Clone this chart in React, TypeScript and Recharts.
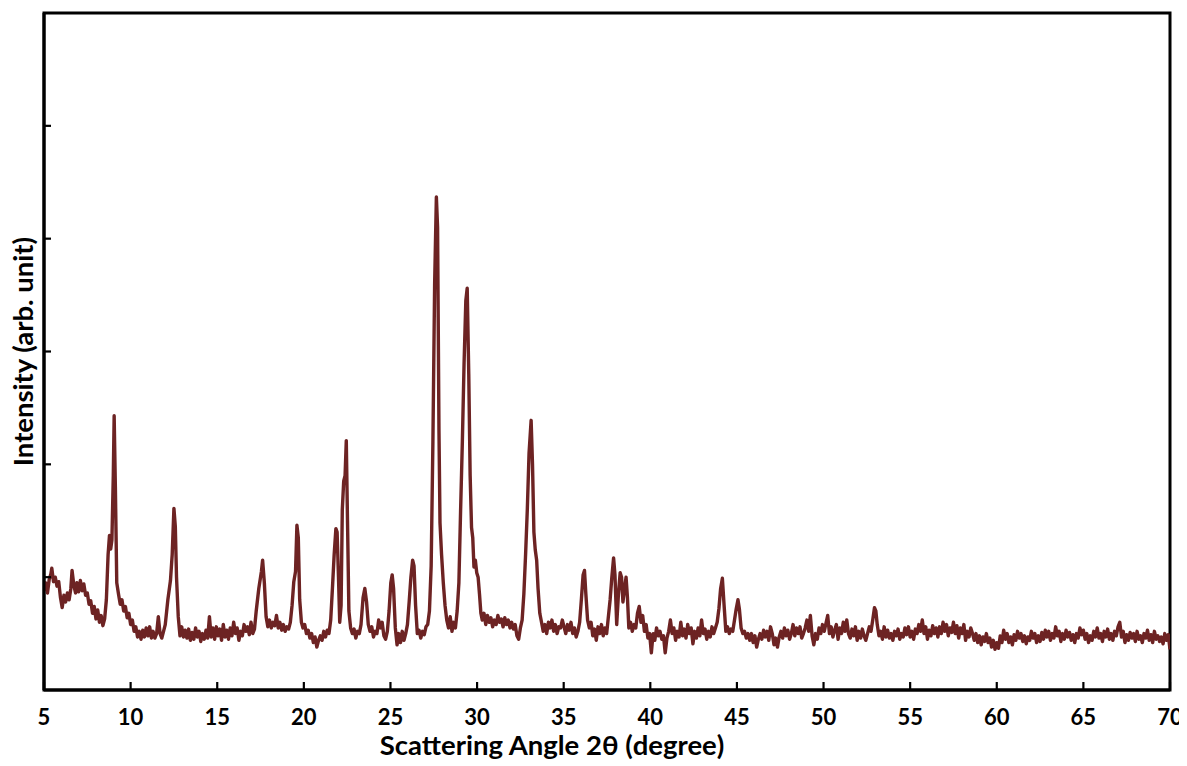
import React from 'react';
import { LineChart, Line, XAxis, YAxis, Label, ReferenceArea } from 'recharts';

// 2θ (degree), intensity (arb. unit)
const seg1: [number, number][] = [
  [5.0, 0.88], [5.1, 0.95], [5.2, 0.86], [5.3, 0.98], [5.4, 1.03], [5.45, 1.08], [5.55, 0.96], [5.65, 1.0],
  [5.75, 0.92], [5.85, 0.96], [5.95, 0.82], [6.05, 0.73], [6.15, 0.84], [6.25, 0.78], [6.35, 0.86], [6.45, 0.8],
  [6.55, 0.9], [6.62, 1.06], [6.72, 0.93], [6.82, 0.86], [6.9, 0.95], [7.0, 0.87], [7.1, 0.97], [7.2, 0.88],
  [7.3, 0.94], [7.4, 0.84], [7.5, 0.86], [7.6, 0.76], [7.7, 0.79], [7.8, 0.68], [7.9, 0.74], [8.0, 0.63],
  [8.1, 0.71], [8.2, 0.6], [8.3, 0.66], [8.4, 0.57], [8.5, 0.63], [8.6, 0.8], [8.7, 1.2], [8.78, 1.37],
  [8.85, 1.25], [8.92, 1.33], [9.0, 1.9], [9.05, 2.43], [9.12, 1.8], [9.2, 0.95], [9.3, 0.85], [9.4, 0.76],
  [9.5, 0.8], [9.6, 0.7], [9.7, 0.74], [9.8, 0.64], [9.9, 0.68], [10.0, 0.58], [10.1, 0.62], [10.2, 0.52],
  [10.3, 0.56], [10.4, 0.47], [10.5, 0.52], [10.6, 0.45], [10.7, 0.53], [10.8, 0.47], [10.9, 0.55], [11.0, 0.48],
  [11.1, 0.56], [11.2, 0.46], [11.3, 0.52], [11.4, 0.46], [11.5, 0.5], [11.6, 0.65], [11.7, 0.5], [11.8, 0.46],
  [11.9, 0.52], [12.0, 0.58], [12.15, 0.8], [12.3, 0.97], [12.4, 1.2], [12.5, 1.61], [12.58, 1.45], [12.65, 1.0],
  [12.75, 0.65], [12.85, 0.48], [12.95, 0.56], [13.05, 0.47], [13.15, 0.53], [13.25, 0.46], [13.35, 0.54], [13.45, 0.44],
  [13.55, 0.51], [13.65, 0.45], [13.75, 0.55], [13.85, 0.47], [13.95, 0.52], [14.05, 0.43], [14.15, 0.5], [14.25, 0.45],
  [14.35, 0.53], [14.45, 0.46], [14.55, 0.65], [14.65, 0.47], [14.75, 0.55], [14.85, 0.45], [14.95, 0.56], [15.05, 0.48],
  [15.15, 0.54], [15.25, 0.44], [15.35, 0.58], [15.45, 0.47], [15.55, 0.53], [15.65, 0.45], [15.75, 0.55], [15.85, 0.48],
  [15.95, 0.6], [16.05, 0.5], [16.15, 0.55], [16.25, 0.44], [16.35, 0.52], [16.45, 0.48], [16.55, 0.58], [16.65, 0.52],
  [16.75, 0.56], [16.85, 0.49], [16.95, 0.6], [17.05, 0.5], [17.15, 0.54], [17.25, 0.7], [17.4, 0.9], [17.55, 1.05],
  [17.62, 1.15], [17.72, 0.95], [17.82, 0.65], [17.92, 0.56], [18.02, 0.62], [18.12, 0.55], [18.22, 0.6], [18.32, 0.57],
  [18.42, 0.66], [18.52, 0.55], [18.62, 0.6], [18.72, 0.53], [18.82, 0.58], [18.92, 0.52], [19.02, 0.56], [19.12, 0.54],
  [19.22, 0.6], [19.32, 0.75], [19.42, 0.96], [19.52, 1.05], [19.6, 1.46], [19.68, 1.35], [19.76, 0.8], [19.86, 0.6],
];

const seg2: [number, number][] = [
  [19.95, 0.55], [20.05, 0.58], [20.15, 0.5], [20.25, 0.53], [20.35, 0.46], [20.45, 0.5], [20.55, 0.42], [20.65, 0.47],
  [20.75, 0.38], [20.85, 0.44], [20.95, 0.48], [21.05, 0.44], [21.15, 0.52], [21.25, 0.47], [21.35, 0.53], [21.45, 0.5],
  [21.55, 0.62], [21.65, 0.9], [21.75, 1.2], [21.85, 1.43], [21.92, 1.4], [22.0, 1.0], [22.07, 0.6], [22.15, 0.75],
  [22.22, 1.6], [22.3, 1.85], [22.38, 1.9], [22.45, 2.21], [22.52, 1.5], [22.6, 0.7], [22.7, 0.55], [22.8, 0.5],
  [22.9, 0.54], [23.0, 0.46], [23.1, 0.52], [23.2, 0.5], [23.3, 0.58], [23.42, 0.82], [23.52, 0.9], [23.62, 0.78],
  [23.72, 0.58], [23.82, 0.52], [23.92, 0.56], [24.02, 0.47], [24.12, 0.52], [24.22, 0.5], [24.32, 0.62], [24.42, 0.55],
  [24.52, 0.6], [24.62, 0.48], [24.72, 0.45], [24.82, 0.52], [24.92, 0.7], [25.02, 0.95], [25.1, 1.02], [25.18, 0.9],
  [25.28, 0.55], [25.38, 0.4], [25.48, 0.5], [25.58, 0.42], [25.68, 0.52], [25.78, 0.44], [25.88, 0.5], [25.98, 0.58],
  [26.08, 0.78], [26.18, 1.0], [26.28, 1.15], [26.36, 1.1], [26.45, 0.75], [26.55, 0.5], [26.65, 0.53], [26.75, 0.46],
  [26.85, 0.52], [26.95, 0.49], [27.05, 0.56], [27.15, 0.58], [27.25, 0.7], [27.35, 1.1], [27.45, 2.2], [27.55, 3.6],
  [27.65, 4.37], [27.72, 4.1], [27.8, 2.3], [27.86, 1.48], [27.95, 1.2], [28.05, 0.95], [28.15, 0.75], [28.25, 0.62],
  [28.35, 0.55], [28.45, 0.65], [28.55, 0.52], [28.65, 0.6], [28.75, 0.55], [28.85, 0.7], [28.95, 0.95], [29.05, 1.6],
  [29.15, 2.2], [29.25, 2.9], [29.35, 3.45], [29.43, 3.56], [29.52, 2.8], [29.6, 1.9], [29.68, 1.44], [29.75, 1.35],
  [29.82, 1.09], [29.9, 1.15], [29.98, 1.04], [30.06, 1.0], [30.14, 0.85], [30.22, 0.68], [30.3, 0.62], [30.4, 0.68],
  [30.5, 0.58], [30.6, 0.66], [30.7, 0.6], [30.8, 0.64], [30.9, 0.56], [31.0, 0.62], [31.1, 0.58], [31.2, 0.66],
  [31.3, 0.6], [31.4, 0.63], [31.5, 0.56], [31.6, 0.64], [31.7, 0.58], [31.8, 0.62], [31.9, 0.55], [32.0, 0.6],
  [32.1, 0.54], [32.2, 0.58], [32.3, 0.48], [32.4, 0.45], [32.5, 0.55], [32.6, 0.62], [32.7, 0.85], [32.8, 1.2],
  [32.9, 1.6], [33.0, 2.1], [33.12, 2.39], [33.2, 2.0], [33.28, 1.4], [33.36, 1.24], [33.44, 1.15], [33.52, 0.9],
  [33.62, 0.68], [33.72, 0.6], [33.82, 0.52], [33.92, 0.58], [34.02, 0.5], [34.12, 0.6], [34.22, 0.55], [34.32, 0.62],
  [34.42, 0.52], [34.52, 0.58], [34.62, 0.5], [34.72, 0.56], [34.82, 0.55], [34.92, 0.62],
];

const seg3: [number, number][] = [
  [35.02, 0.56], [35.12, 0.5], [35.22, 0.58], [35.32, 0.53], [35.42, 0.6], [35.52, 0.5], [35.62, 0.55], [35.72, 0.47],
  [35.82, 0.52], [35.92, 0.6], [36.02, 0.8], [36.12, 1.02], [36.2, 1.06], [36.28, 0.85], [36.38, 0.62], [36.48, 0.55],
  [36.58, 0.6], [36.68, 0.48], [36.78, 0.54], [36.88, 0.44], [36.98, 0.56], [37.08, 0.5], [37.18, 0.58], [37.28, 0.48],
  [37.38, 0.55], [37.48, 0.5], [37.58, 0.65], [37.68, 0.8], [37.78, 1.0], [37.88, 1.17], [37.96, 1.02], [38.06, 0.58],
  [38.16, 0.85], [38.26, 1.04], [38.34, 1.0], [38.42, 0.78], [38.5, 0.88], [38.6, 1.0], [38.68, 0.82], [38.76, 0.55],
  [38.86, 0.6], [38.96, 0.52], [39.06, 0.58], [39.16, 0.55], [39.26, 0.68], [39.36, 0.74], [39.46, 0.6], [39.56, 0.66],
  [39.66, 0.52], [39.76, 0.58], [39.86, 0.46], [39.96, 0.5], [40.06, 0.33], [40.16, 0.5], [40.26, 0.44], [40.36, 0.55],
  [40.46, 0.48], [40.56, 0.52], [40.66, 0.45], [40.76, 0.48], [40.86, 0.33], [40.96, 0.46], [41.06, 0.52], [41.16, 0.62],
  [41.26, 0.5], [41.36, 0.55], [41.46, 0.44], [41.56, 0.52], [41.66, 0.47], [41.76, 0.6], [41.86, 0.48], [41.96, 0.54],
  [42.06, 0.46], [42.16, 0.58], [42.26, 0.5], [42.36, 0.55], [42.46, 0.41], [42.56, 0.52], [42.66, 0.46], [42.76, 0.55],
  [42.86, 0.48], [42.96, 0.62], [43.06, 0.5], [43.16, 0.54], [43.26, 0.45], [43.36, 0.52], [43.46, 0.47], [43.56, 0.56],
  [43.66, 0.5], [43.76, 0.55], [43.86, 0.6], [43.96, 0.72], [44.06, 0.9], [44.16, 0.99], [44.26, 0.75], [44.36, 0.52],
  [44.46, 0.56], [44.56, 0.5], [44.66, 0.54], [44.76, 0.52], [44.86, 0.62], [44.96, 0.72], [45.06, 0.8], [45.14, 0.72],
  [45.24, 0.55], [45.34, 0.5], [45.44, 0.52], [45.54, 0.46], [45.64, 0.5], [45.74, 0.44], [45.84, 0.5], [45.94, 0.42],
  [46.04, 0.48], [46.14, 0.38], [46.24, 0.45], [46.34, 0.5], [46.44, 0.45], [46.54, 0.53], [46.64, 0.47], [46.74, 0.52],
  [46.84, 0.44], [46.94, 0.56], [47.04, 0.5], [47.14, 0.4], [47.24, 0.46], [47.34, 0.38], [47.44, 0.47], [47.54, 0.52],
  [47.64, 0.46], [47.74, 0.55], [47.84, 0.48], [47.94, 0.53], [48.04, 0.45], [48.14, 0.5], [48.24, 0.58], [48.34, 0.48],
  [48.44, 0.55], [48.54, 0.5], [48.64, 0.56], [48.74, 0.46], [48.84, 0.5], [48.94, 0.55], [49.04, 0.62], [49.14, 0.52],
  [49.24, 0.66], [49.34, 0.48], [49.44, 0.4], [49.54, 0.5], [49.64, 0.45], [49.74, 0.55], [49.84, 0.5], [49.94, 0.58],
];

const seg4: [number, number][] = [
  [50.04, 0.52], [50.14, 0.59], [50.24, 0.66], [50.34, 0.5], [50.44, 0.56], [50.54, 0.47], [50.64, 0.53], [50.74, 0.58],
  [50.84, 0.45], [50.94, 0.55], [51.04, 0.5], [51.14, 0.6], [51.24, 0.52], [51.34, 0.62], [51.44, 0.5], [51.54, 0.46],
  [51.64, 0.54], [51.74, 0.48], [51.84, 0.56], [51.94, 0.44], [52.04, 0.52], [52.14, 0.46], [52.24, 0.54], [52.34, 0.48],
  [52.44, 0.44], [52.54, 0.5], [52.64, 0.56], [52.74, 0.52], [52.84, 0.62], [52.94, 0.73], [53.02, 0.7], [53.1, 0.58],
  [53.2, 0.48], [53.3, 0.52], [53.4, 0.45], [53.5, 0.56], [53.6, 0.47], [53.7, 0.53], [53.8, 0.46], [53.9, 0.5],
  [54.0, 0.44], [54.1, 0.52], [54.2, 0.48], [54.3, 0.54], [54.4, 0.45], [54.5, 0.5], [54.6, 0.47], [54.7, 0.55],
  [54.8, 0.49], [54.9, 0.56], [55.0, 0.47], [55.1, 0.52], [55.2, 0.45], [55.3, 0.54], [55.4, 0.5], [55.5, 0.58],
  [55.6, 0.52], [55.7, 0.62], [55.8, 0.5], [55.9, 0.56], [56.0, 0.45], [56.1, 0.53], [56.2, 0.48], [56.3, 0.57],
  [56.4, 0.5], [56.5, 0.55], [56.6, 0.47], [56.7, 0.56], [56.8, 0.5], [56.9, 0.6], [57.0, 0.52], [57.1, 0.58],
  [57.2, 0.48], [57.3, 0.55], [57.4, 0.51], [57.5, 0.6], [57.6, 0.5], [57.7, 0.57], [57.8, 0.46], [57.9, 0.55],
  [58.0, 0.5], [58.1, 0.58], [58.2, 0.44], [58.3, 0.52], [58.4, 0.47], [58.5, 0.55], [58.6, 0.5], [58.7, 0.44],
  [58.8, 0.5], [58.9, 0.42], [59.0, 0.48], [59.1, 0.4], [59.2, 0.47], [59.3, 0.43], [59.4, 0.5], [59.5, 0.42],
  [59.6, 0.46], [59.7, 0.38], [59.8, 0.44], [59.9, 0.36], [60.0, 0.42], [60.1, 0.37], [60.2, 0.48], [60.3, 0.42],
  [60.4, 0.53], [60.5, 0.45], [60.6, 0.5], [60.7, 0.42], [60.8, 0.47], [60.9, 0.4], [61.0, 0.49], [61.1, 0.44],
  [61.2, 0.52], [61.3, 0.46], [61.4, 0.5], [61.5, 0.43], [61.6, 0.48], [61.7, 0.41], [61.8, 0.47], [61.9, 0.44],
  [62.0, 0.52], [62.1, 0.46], [62.2, 0.5], [62.3, 0.42], [62.4, 0.48], [62.5, 0.43], [62.6, 0.51], [62.7, 0.45],
  [62.8, 0.53], [62.9, 0.47], [63.0, 0.52], [63.1, 0.44], [63.2, 0.5], [63.3, 0.46], [63.4, 0.56], [63.5, 0.48],
  [63.6, 0.52], [63.7, 0.43], [63.8, 0.5], [63.9, 0.45], [64.0, 0.53], [64.1, 0.47], [64.2, 0.51], [64.3, 0.44],
  [64.4, 0.49], [64.5, 0.42], [64.6, 0.5], [64.7, 0.46], [64.8, 0.55], [64.9, 0.49], [65.0, 0.53], [65.1, 0.45],
  [65.2, 0.5], [65.3, 0.42], [65.4, 0.48], [65.5, 0.44], [65.6, 0.52], [65.7, 0.47], [65.8, 0.55], [65.9, 0.46],
  [66.0, 0.5], [66.1, 0.43], [66.2, 0.52], [66.3, 0.47], [66.4, 0.54], [66.5, 0.45], [66.6, 0.5], [66.7, 0.44],
  [66.8, 0.52], [66.9, 0.48], [67.0, 0.56], [67.1, 0.6], [67.2, 0.47], [67.3, 0.52], [67.4, 0.42], [67.5, 0.49],
  [67.6, 0.44], [67.7, 0.51], [67.8, 0.46], [67.9, 0.5], [68.0, 0.43], [68.1, 0.52], [68.2, 0.45], [68.3, 0.48],
  [68.4, 0.42], [68.5, 0.5], [68.6, 0.46], [68.7, 0.53], [68.8, 0.44], [68.9, 0.49], [69.0, 0.42], [69.1, 0.52],
  [69.2, 0.45], [69.3, 0.48], [69.4, 0.43], [69.5, 0.47], [69.6, 0.41], [69.7, 0.5], [69.8, 0.44], [69.9, 0.49],
  [70.0, 0.36],
];

const xTicks = [5, 10, 15, 20, 25, 30, 35, 40, 45, 50, 55, 60, 65, 70];
const yTicks = [1, 2, 3, 4, 5];
const xDomain: [number, number] = [5, 70];
const yDomain: [number, number] = [0, 6];
const xTitle = 'Scattering Angle 2θ (degree)';
const yTitle = 'Intensity (arb. unit)';

const data = [...seg1, ...seg2, ...seg3, ...seg4].map(([a, v]) => ({ a, v }));

const FONT = 'Lato, "Open Sans", "DejaVu Sans", sans-serif';
const LINE_COLOR = '#6d2323';

const XTick = (props: any) => {
  const { x, y, payload } = props;
  return (
    <g>
      <line x1={x} x2={x} y1={y} y2={y - 8} stroke="#000" strokeWidth={2.2} />
      <text x={x} y={y + 35} textAnchor="middle" fontFamily={FONT} fontWeight={700} fontSize={22} fill="#000">
        {payload.value}
      </text>
    </g>
  );
};

const YTick = (props: any) => {
  const { x, y } = props;
  return <line x1={x} x2={x + 7} y1={y} y2={y} stroke="#000" strokeWidth={2.2} />;
};

const XTitle = (props: any) => {
  const vb = props.viewBox || { x: 0, y: 0, width: 0, height: 0 };
  return (
    <text x={vb.x + 508} y={vb.y + 65} textAnchor="middle" fontFamily={FONT} fontWeight={700} fontSize={27.5} fill="#000">
      {xTitle}
    </text>
  );
};

const YTitle = (props: any) => {
  const vb = props.viewBox || { x: 0, y: 0, width: 0, height: 0 };
  const cx = vb.x + 33;
  const cy = vb.y + vb.height / 2;
  return (
    <text x={cx} y={cy} transform={`rotate(-90 ${cx} ${cy})`} textAnchor="middle" fontFamily={FONT} fontWeight={700} fontSize={27.5} fill="#000">
      {yTitle}
    </text>
  );
};

export default function App() {
  return (
    <div style={{ width: 1187, height: 764, margin: '-8px 0 0 -8px', background: '#fff' }}>
      <LineChart width={1187} height={764} data={data} margin={{ top: 13, right: 17, bottom: 0, left: 0 }}>
        <XAxis
          dataKey="a"
          type="number"
          domain={xDomain}
          ticks={xTicks}
          allowDataOverflow
          height={74}
          tickSize={0}
          tickMargin={0}
          tickLine={false}
          tick={<XTick />}
          axisLine={{ stroke: '#000', strokeWidth: 3 }}
          interval={0}
        >
          <Label content={<XTitle />} />
        </XAxis>
        <YAxis
          type="number"
          domain={yDomain}
          ticks={yTicks}
          allowDataOverflow
          width={44}
          tickSize={0}
          tickMargin={0}
          tickLine={false}
          tick={<YTick />}
          axisLine={{ stroke: '#000', strokeWidth: 3 }}
          interval={0}
        >
          <Label content={<YTitle />} />
        </YAxis>
        <ReferenceArea
          x1={xDomain[0]}
          x2={xDomain[1]}
          y1={yDomain[0]}
          y2={yDomain[1]}
          fill="none"
          fillOpacity={0}
          stroke="#000"
          strokeWidth={3}
          strokeOpacity={1}
          ifOverflow="visible"
        />
        <Line
          type="linear"
          dataKey="v"
          stroke={LINE_COLOR}
          strokeWidth={3.4}
          dot={false}
          isAnimationActive={false}
          strokeLinejoin="round"
        />
      </LineChart>
    </div>
  );
}
